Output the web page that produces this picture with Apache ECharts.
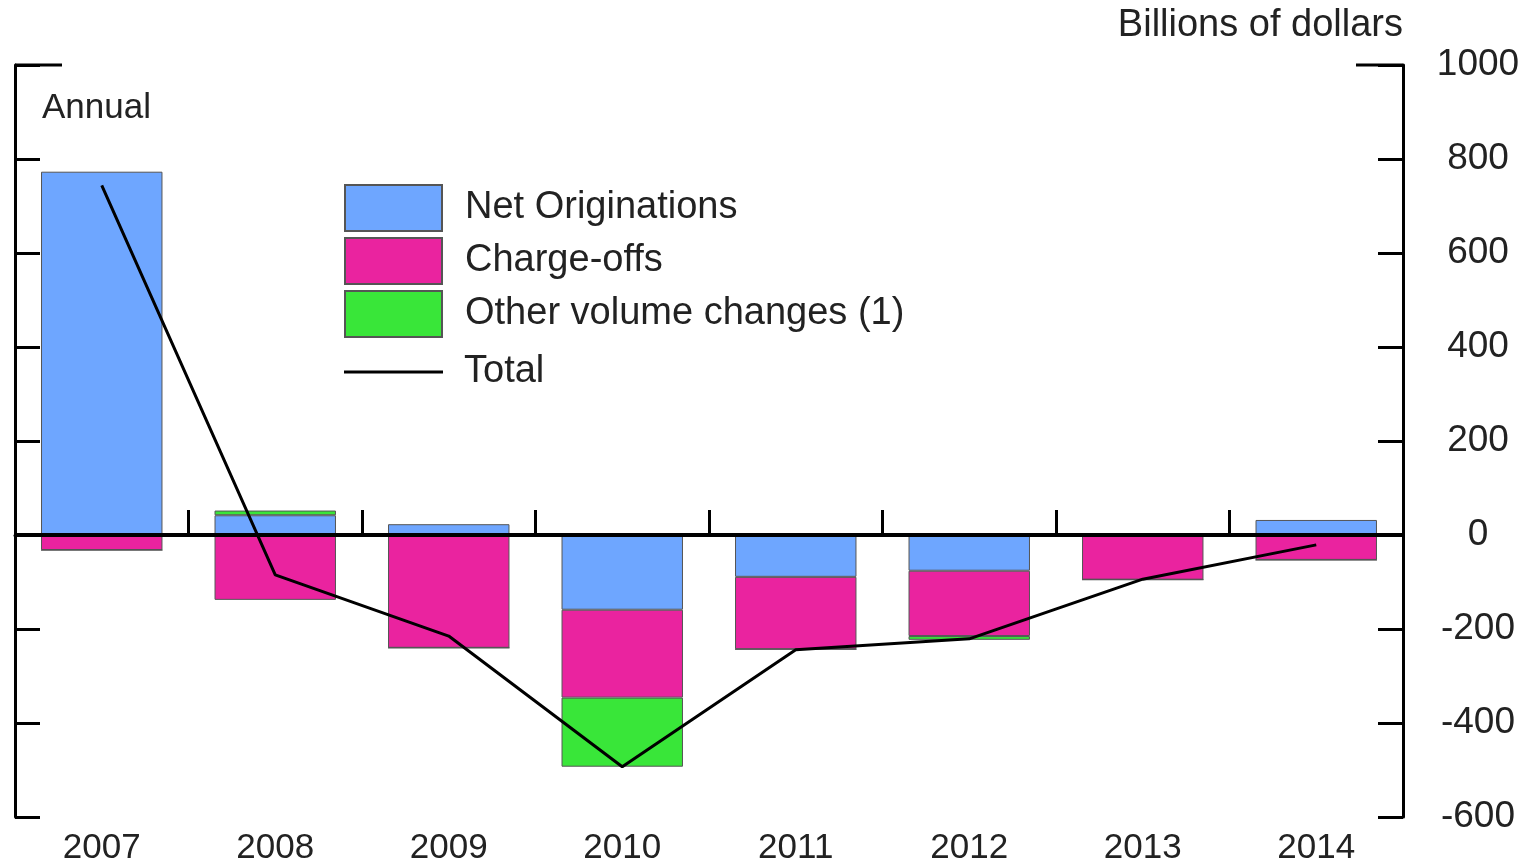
<!DOCTYPE html>
<html>
<head>
<meta charset="utf-8">
<script src="https://cdn.jsdelivr.net/npm/echarts@6/dist/echarts.min.js"></script>
<style>
  html, body { margin: 0; padding: 0; background: #fff; }
  #chart { width: 1537px; height: 866px; }
</style>
</head>
<body>
<div id="chart"></div>
<script>
// data, billions of dollars
const years = ["2007", "2008", "2009", "2010", "2011", "2012", "2013", "2014"];
const netOriginations = [773, 42, 23, -159, -89, -76, 0, 32];
const chargeOffs = [-32, -138, -240, -187, -154, -139, -95, -53];
const otherChanges = [0, 10, 0, -147, 0, -8, 0, 0];
const total = [744, -85, -215, -493, -244, -221, -94, -21];
const yTicks = [-600, -400, -200, 0, 200, 400, 600, 800, 1000];

const font = "Liberation Sans, Arial, sans-serif";
const barBorder = { borderColor: "#555", borderWidth: 1 };

const chart = echarts.init(document.getElementById("chart"));

const yBase = {
  type: "value",
  min: yTicks[0],
  max: yTicks[yTicks.length - 1],
  interval: 200,
  splitLine: { show: false },
  axisLine: { show: true, lineStyle: { color: "#000", width: 3 } },
  axisTick: { show: true, inside: true, length: 25, lineStyle: { color: "#000", width: 3 } }
};

chart.setOption({
  animation: false,
  textStyle: { fontFamily: font },
  grid: { left: 15, right: 134, top: 65, bottom: 48, containLabel: false },
  title: [
    {
      text: "Billions of dollars",
      right: 134, top: 7, padding: 0,
      textStyle: { fontSize: 38, fontWeight: "normal", color: "#222", fontFamily: font }
    },
    {
      text: "Annual",
      left: 42, top: 91, padding: 0,
      textStyle: { fontSize: 35, fontWeight: "normal", color: "#222", fontFamily: font }
    }
  ],
  legend: [
    {
      data: ["Net Originations", "Charge-offs", "Other volume changes (1)"],
      orient: "vertical",
      left: 344, top: 184, padding: 0,
      icon: "rect",
      itemWidth: 97, itemHeight: 46, itemGap: 5,
      textStyle: { fontSize: 38, lineHeight: 44, color: "#222", fontFamily: font, padding: [0, 0, 0, 18] }
    },
    {
      data: ["Total"],
      orient: "vertical",
      left: 344, top: 350, padding: 0,
      icon: "rect",
      itemWidth: 99, itemHeight: 3,
      textStyle: { fontSize: 38, lineHeight: 44, color: "#222", fontFamily: font, padding: [0, 0, 0, 16] }
    }
  ],
  xAxis: {
    type: "category",
    data: years,
    axisLine: { lineStyle: { color: "#000", width: 3 } },
    axisTick: { show: true, inside: true, length: 25, lineStyle: { color: "#000", width: 3 } },
    axisLabel: { fontSize: 35, color: "#222", margin: 14, fontFamily: font }
  },
  yAxis: [
    Object.assign({}, yBase, { position: "left", axisLabel: { show: false } }),
    Object.assign({}, yBase, {
      position: "right",
      axisLabel: {
        show: true, fontSize: 37, color: "#222", align: "center", margin: 75, fontFamily: font,
        formatter: (v) => String(v)
      }
    })
  ],
  series: [
    {
      name: "Net Originations", type: "bar", stack: "v", barWidth: "70%",
      data: netOriginations,
      itemStyle: Object.assign({ color: "#6EA6FF" }, barBorder),
      markLine: {
        silent: true, symbol: "none", label: { show: false },
        lineStyle: { color: "#000", width: 4, type: "solid" },
        data: [{ yAxis: 0 }]
      }
    },
    {
      name: "Charge-offs", type: "bar", stack: "v",
      data: chargeOffs,
      itemStyle: Object.assign({ color: "#EA239F" }, barBorder)
    },
    {
      name: "Other volume changes (1)", type: "bar", stack: "v",
      data: otherChanges,
      itemStyle: Object.assign({ color: "#39E639" }, barBorder)
    },
    {
      name: "Total", type: "line", data: total,
      symbol: "none", z: 5,
      lineStyle: { color: "#000", width: 3 },
      itemStyle: { color: "#000" }
    }
  ]
});

// longer corner ticks at the top value, as in the original frame
const topY = chart.convertToPixel({ yAxisIndex: 0 }, yTicks[yTicks.length - 1]);
const gridLeft = 15, gridRight = 1537 - 134;
chart.setOption({
  graphic: [
    { type: "line", shape: { x1: gridLeft, y1: topY, x2: gridLeft + 47, y2: topY }, style: { stroke: "#000", lineWidth: 3 } },
    { type: "line", shape: { x1: gridRight - 47, y1: topY, x2: gridRight, y2: topY }, style: { stroke: "#000", lineWidth: 3 } }
  ]
});
</script>
</body>
</html>
